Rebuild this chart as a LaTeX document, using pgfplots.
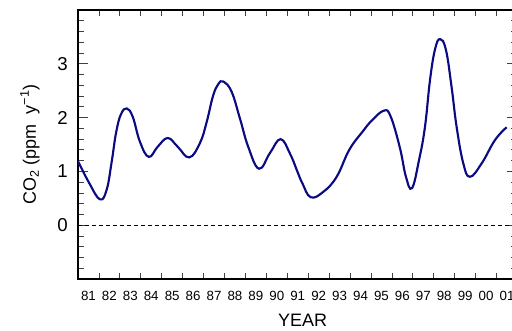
\documentclass[border=0pt]{standalone}
\usepackage{pgfplots}
\pgfplotsset{compat=1.18}
\usepackage{fontspec}
\setmainfont{Liberation Sans}
\definecolor{curveblue}{RGB}{10,10,130}
\begin{document}
\begin{tikzpicture}
\begin{axis}[
  scale only axis,
  width=329.625pt, height=201.75pt,
  at={(0,0)}, anchor=south west,
  xmin=1981, xmax=2002, ymin=-1, ymax=4,
  axis line style={line width=0.8pt, black},
  tick pos=both, tick align=inside,
  xticklabel pos=lower, yticklabel pos=left,
  /pgf/number format/assume math mode=true,
  xtick={1981.5,1982.5,1983.5,1984.5,1985.5,1986.5,1987.5,1988.5,1989.5,1990.5,1991.5,1992.5,1993.5,1994.5,1995.5,1996.5,1997.5,1998.5,1999.5,2000.5,2001.5},
  xticklabels={81,82,83,84,85,86,87,88,89,90,91,92,93,94,95,96,97,98,99,00,01},
  major x tick style={draw=none},
  minor xtick={1982,1983,...,2001},
  ytick={0,1,2,3},
  minor ytick={-0.8,-0.6,-0.4,-0.2,0.2,0.4,0.6,0.8,1.2,1.4,1.6,1.8,2.2,2.4,2.6,2.8,3.2,3.4,3.6,3.8},
  major tick length=7.5pt, minor tick length=4.5pt,
  every tick/.style={line width=0.6pt, black!75},
  xticklabel style={anchor=center, yshift=-12.75pt, font=\fontsize{10}{12}\selectfont},
  yticklabel style={anchor=east, inner sep=0pt, xshift=-7.5pt, font=\fontsize{14}{16}\selectfont},
  xlabel={YEAR},
  ylabel={CO\textsubscript{2} (ppm\ \ y\textsuperscript{−1})},
  every axis x label/.style={at={(axis description cs:0.511,-0.152)}, anchor=center, font=\fontsize{13.5}{15}\selectfont},
  every axis y label/.style={at={(axis description cs:-0.1092,0.5)}, anchor=center, rotate=90, font=\fontsize{13.5}{15}\selectfont},
]
\addplot[black, line width=0.6pt, dash pattern=on 3pt off 2.25pt] coordinates {(1981,0) (2002,0)};
\addplot[curveblue, line width=1.6pt, smooth, tension=0.7] coordinates {
(1981.00,1.19) (1981.54,0.78) (1982.05,0.48) (1982.37,0.66) (1982.61,1.18)
(1982.82,1.72) (1983.05,2.06) (1983.33,2.17) (1983.62,2.01) (1983.96,1.55)
(1984.38,1.27) (1984.81,1.46) (1985.29,1.62) (1985.76,1.46) (1986.32,1.26)
(1986.83,1.53) (1987.15,1.92) (1987.45,2.40) (1987.70,2.62) (1987.95,2.67)
(1988.34,2.48) (1988.74,1.98) (1989.14,1.45) (1989.65,1.05) (1990.17,1.34)
(1990.68,1.60) (1991.13,1.33) (1991.45,1.03) (1991.72,0.78) (1992.12,0.52)
(1992.72,0.62) (1993.36,0.90) (1993.96,1.40) (1994.60,1.74) (1995.05,1.95)
(1995.62,2.13) (1995.94,2.02) (1996.38,1.44) (1996.67,0.90) (1996.96,0.69)
(1997.30,1.22) (1997.58,1.83) (1997.82,2.70) (1998.06,3.27) (1998.30,3.46)
(1998.58,3.26) (1998.85,2.57) (1999.09,1.83) (1999.41,1.15) (1999.73,0.90)
(2000.29,1.15) (2000.92,1.58) (2001.48,1.82)
};
\end{axis}
\pgfresetboundingbox
\path[use as bounding box] (-58.5pt,-39pt) rectangle (325.5pt,209.25pt);
\end{tikzpicture}
\end{document}
